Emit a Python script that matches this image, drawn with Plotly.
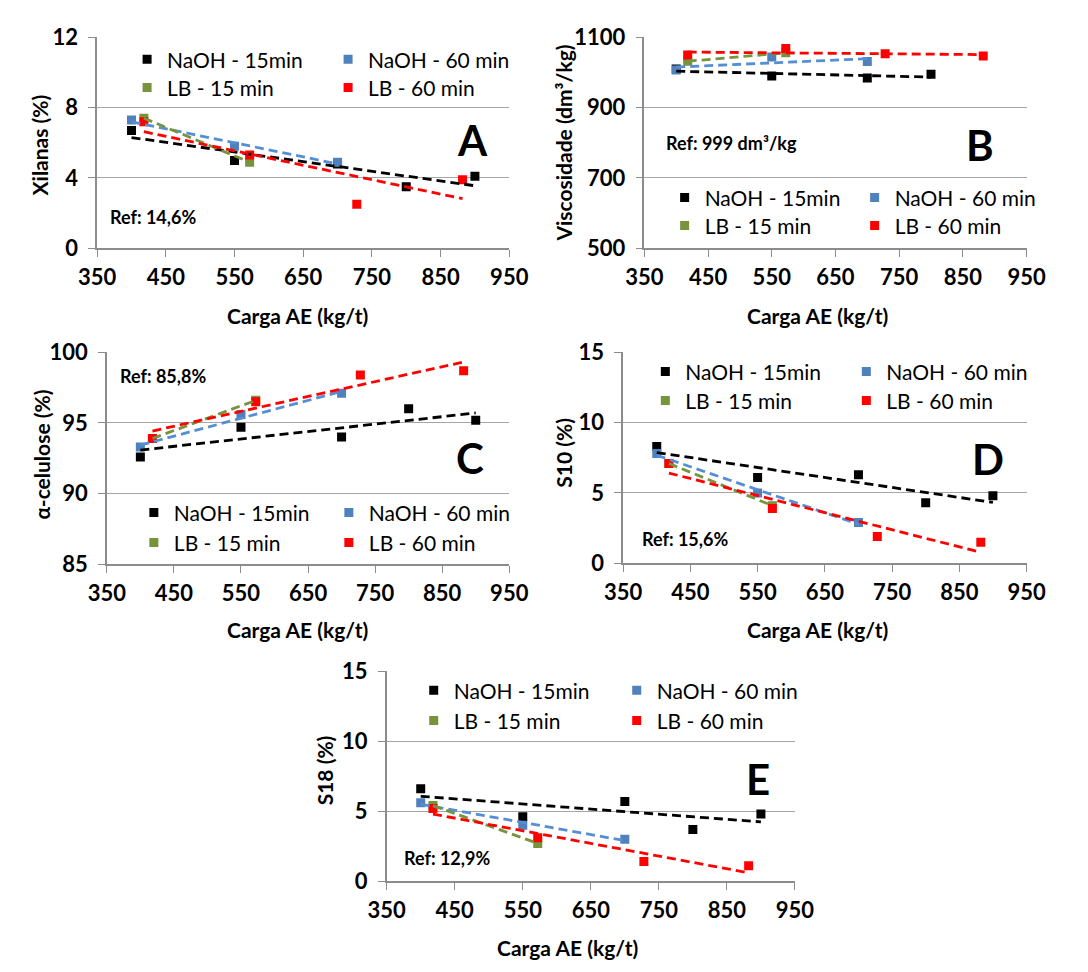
import numpy as np
import plotly.graph_objects as go

# ---------------- data ----------------
x_naoh15 = [400, 550, 700, 800, 900]
x_naoh15_b = [400, 550, 700, 800]
x_naoh60 = [400, 550, 700]
x_lb15 = [418, 572]
x_lb60 = [418, 572, 728, 882]

series_names = ["NaOH - 15min", "NaOH - 60 min", "LB - 15 min", "LB - 60 min"]

a_naoh15 = [6.7, 5.0, 4.8, 3.5, 4.1]
a_naoh60 = [7.3, 5.8, 4.9]
a_lb15 = [7.4, 4.9]
a_lb60 = [7.2, 5.3, 2.5, 3.9]

b_naoh15 = [1010, 990, 984, 995]
b_naoh60 = [1007, 1044, 1031]
b_lb15 = [1032, 1056]
b_lb60 = [1050, 1068, 1053, 1047]

c_naoh15 = [92.6, 94.7, 94.0, 96.0, 95.2]
c_naoh60 = [93.3, 95.6, 97.1]
c_lb15 = [93.9, 96.6]
c_lb60 = [93.9, 96.5, 98.4, 98.7]

d_naoh15 = [8.3, 6.1, 6.3, 4.3, 4.8]
d_naoh60 = [7.8, 5.0, 2.9]
d_lb15 = [7.1, 4.1]
d_lb60 = [7.1, 3.9, 1.9, 1.5]

e_naoh15 = [6.6, 4.6, 5.7, 3.7, 4.8]
e_naoh60 = [5.6, 4.0, 3.0]
e_lb15 = [5.4, 2.7]
e_lb60 = [5.2, 3.1, 1.4, 1.1]

y_titles = ["Xilanas (%)", "Viscosidade (dm³/kg)", "α-celulose (%)", "S10 (%)", "S18 (%)"]
x_title = "Carga AE (kg/t)"
panel_letters = ["A", "B", "C", "D", "E"]
ref_texts = ["Ref: 14,6%", "Ref: 999 dm³/kg", "Ref: 85,8%", "Ref: 15,6%", "Ref: 12,9%"]
y_ranges = [(0, 12), (500, 1100), (85, 100), (0, 15), (0, 15)]
y_dticks = [4, 200, 5, 5, 5]

# ---------------- styling ----------------
W, H = 1088, 972
FONT = "Lato"
marker_colors = ["#000000", "#4F81BD", "#77933C", "#FF0000"]
line_colors = ["#000000", "#558ED5", "#77933C", "#FF0000"]

panels = [
    dict(xs=[x_naoh15, x_naoh60, x_lb15, x_lb60], ys=[a_naoh15, a_naoh60, a_lb15, a_lb60],
         box=(81, 508, 24, 241), leg=(130, 331, 47, 76), letter=(470, 130), ref=(92, 209),
         ytitle=(21, 135), xtitle=(289, 310)),
    dict(xs=[x_naoh15_b, x_naoh60, x_lb15, x_lb60], ys=[b_naoh15, b_naoh60, b_lb15, b_lb60],
         box=(648, 1044, 24, 241), leg=(687, 877, 189, 218), letter=(996, 135), ref=(668, 133),
         ytitle=(564, 133), xtitle=(827, 310)),
    dict(xs=[x_naoh15, x_naoh60, x_lb15, x_lb60], ys=[c_naoh15, c_naoh60, c_lb15, c_lb60],
         box=(91, 508, 348, 566), leg=(137, 332, 513, 544), letter=(467, 457), ref=(103, 372),
         ytitle=(23, 453), xtitle=(289, 633)),
    dict(xs=[x_naoh15, x_naoh60, x_lb15, x_lb60], ys=[d_naoh15, d_naoh60, d_lb15, d_lb60],
         box=(626, 1044, 348, 565), leg=(667, 868, 368, 398), letter=(1004, 458), ref=(643, 540),
         ytitle=(564, 451), xtitle=(827, 633)),
    dict(xs=[x_naoh15, x_naoh60, x_lb15, x_lb60], ys=[e_naoh15, e_naoh60, e_lb15, e_lb60],
         box=(381, 804, 676, 892), leg=(427, 630, 696, 727), letter=(766, 787), ref=(397, 868),
         ytitle=(316, 778), xtitle=(568, 960)),
]

fig = go.Figure()
layout = dict(
    width=W, height=H, margin=dict(l=0, r=0, t=0, b=0),
    paper_bgcolor="white", plot_bgcolor="white",
    font=dict(family=FONT, size=20, color="black"),
    annotations=[],
)

bold = lambda s: dict(family=FONT, size=s, color="black", weight="bold")

leg_idx = 0
for p_i, p in enumerate(panels):
    k = p_i + 1
    xa = "x" if k == 1 else f"x{k}"
    ya = "y" if k == 1 else f"y{k}"
    xl = "xaxis" if k == 1 else f"xaxis{k}"
    yl = "yaxis" if k == 1 else f"yaxis{k}"
    x0, x1, y0, y1 = p["box"]

    # legends: one per row
    leg_names = []
    for r in range(2):
        leg_idx += 1
        ln = "legend" if leg_idx == 1 else f"legend{leg_idx}"
        leg_names.append(ln)
        col_sp = p["leg"][1] - p["leg"][0]
        ly = p["leg"][2 + r]
        layout[ln] = dict(
            orientation="h", x=(p["leg"][0] - 18) / W, y=1 - ly / H,
            xanchor="left", yanchor="middle",
            entrywidth=col_sp - 45, entrywidthmode="pixels",
            bgcolor="rgba(0,0,0,0)", borderwidth=0,
            font=dict(family=FONT, size=21, color="black"),
            itemclick=False, itemdoubleclick=False,
        )

    for s in range(4):
        xs = np.array(p["xs"][s], dtype=float)
        ys = np.array(p["ys"][s], dtype=float)
        fig.add_trace(go.Scatter(
            x=xs, y=ys, mode="markers", name=series_names[s],
            marker=dict(symbol="square", size=9, color=marker_colors[s], line=dict(width=0)),
            xaxis=xa, yaxis=ya, legend=leg_names[0 if s < 2 else 1],
            showlegend=True,
        ))
    for s in range(4):
        xs = np.array(p["xs"][s], dtype=float)
        ys = np.array(p["ys"][s], dtype=float)
        m, b = np.polyfit(xs, ys, 1)
        xt = np.array([xs.min(), xs.max()])
        fig.add_trace(go.Scatter(
            x=xt, y=m * xt + b, mode="lines",
            line=dict(color=line_colors[s], width=2.8, dash="9px,5px"),
            xaxis=xa, yaxis=ya, showlegend=False, hoverinfo="skip",
        ))

    layout[xl] = dict(
        domain=[x0 / W, x1 / W], anchor=ya, range=[350, 950], dtick=100, tick0=350,
        showgrid=False, zeroline=False, showline=True, linecolor="#8C8C8C", linewidth=1.5,
        ticks="outside", ticklen=7, tickcolor="#8C8C8C", tickwidth=1,
        tickfont=bold(22), ticklabelstandoff=2,
    )
    yr = y_ranges[p_i]
    layout[yl] = dict(
        domain=[1 - y1 / H, 1 - y0 / H], anchor=xa, range=list(yr), dtick=y_dticks[p_i],
        tick0=yr[0],
        showgrid=True, gridcolor="#A6A6A6", gridwidth=1, zeroline=False,
        showline=True, linecolor="#8C8C8C", linewidth=1.5,
        ticks="outside", ticklen=7, tickcolor="#8C8C8C", tickwidth=1,
        tickfont=bold(22), ticklabelstandoff=6,
    )

    # axis titles
    layout["annotations"].append(dict(
        text=x_title, x=p["xtitle"][0] / W, y=1 - p["xtitle"][1] / H,
        xref="paper", yref="paper", showarrow=False, xanchor="center", yanchor="middle",
        font=bold(21),
    ))
    layout["annotations"].append(dict(
        text=y_titles[p_i], x=p["ytitle"][0] / W, y=1 - p["ytitle"][1] / H,
        xref="paper", yref="paper", showarrow=False, xanchor="center", yanchor="middle",
        textangle=-90, font=bold(21),
    ))
    # panel letter
    layout["annotations"].append(dict(
        text=panel_letters[p_i], x=p["letter"][0] / W, y=1 - p["letter"][1] / H,
        xref="paper", yref="paper", showarrow=False, xanchor="center", yanchor="middle",
        font=bold(42),
    ))
    layout["annotations"].append(dict(
        text=ref_texts[p_i], x=p["ref"][0] / W, y=1 - p["ref"][1] / H,
        xref="paper", yref="paper", showarrow=False, xanchor="left", yanchor="middle",
        font=bold(18),
    ))

fig.update_layout(**layout)
fig.write_html("out.html")
